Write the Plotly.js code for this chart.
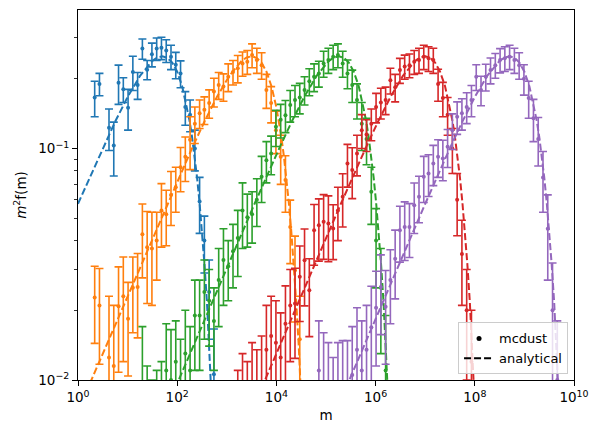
<!DOCTYPE html>
<html>
<head>
<meta charset="utf-8">
<script src="https://cdn.plot.ly/plotly-3.0.1.min.js"></script>
<style>
  html, body { margin: 0; padding: 0; background: #ffffff; }
  #chart { width: 599px; height: 437px; }
</style>
</head>
<body>
<div id="chart"></div>
<script>
// ---- mcdust snapshots: bin-centre masses, m^2 f(m) and 1-sigma errors ----
const massBlue = [2.170, 2.708, 4.217, 5.262, 6.566, 8.194, 10.22, 12.76, 15.92, 19.86, 24.79, 30.93, 38.60, 48.16, 60.10, 74.99, 93.57, 116.8, 145.7, 181.9, 226.9, 283.0, 353.2, 440.8, 550.0];
const valBlue = [0.166, 0.190, 0.123, 0.103, 0.192, 0.180, 0.150, 0.214, 0.188, 0.270, 0.219, 0.255, 0.270, 0.272, 0.265, 0.249, 0.230, 0.211, 0.151, 0.140, 0.100, 0.059, 0.040, 0.024, 0.0106];
const errBlue = [0.029, 0.021, 0.025, 0.027, 0.037, 0.022, 0.030, 0.036, 0.025, 0.027, 0.021, 0.030, 0.030, 0.030, 0.030, 0.030, 0.030, 0.028, 0.025, 0.022, 0.020, 0.016, 0.011, 0.009, 0.006];

const massOrange = [2.170, 2.708, 4.217, 5.262, 6.566, 8.194, 10.22, 12.76, 15.92, 19.86, 24.79, 30.93, 38.60, 48.16, 60.10, 74.99, 93.57, 116.8, 145.7, 181.9, 226.9, 283.0, 353.2, 440.8, 550.0, 686.3, 856.4, 1069, 1334, 1664, 2076, 2591, 3233, 4034, 5034, 6282, 7838, 9781, 12205, 15230, 19005, 23714, 29590];
const valOrange = [0.0227, 0.0210, 0.0125, 0.0115, 0.0208, 0.023, 0.0184, 0.025, 0.0252, 0.0426, 0.0374, 0.037, 0.040, 0.054, 0.052, 0.063, 0.068, 0.083, 0.092, 0.109, 0.128, 0.142, 0.147, 0.157, 0.176, 0.188, 0.185, 0.204, 0.214, 0.222, 0.233, 0.237, 0.253, 0.241, 0.229, 0.179, 0.157, 0.120, 0.092, 0.073, 0.0458, 0.0298, 0.015];
const errOrange = [0.0083, 0.0093, 0.0105, 0.0095, 0.010, 0.011, 0.008, 0.009, 0.010, 0.015, 0.016, 0.016, 0.013, 0.0165, 0.014, 0.0165, 0.015, 0.018, 0.020, 0.028, 0.023, 0.020, 0.020, 0.022, 0.025, 0.025, 0.025, 0.028, 0.026, 0.030, 0.028, 0.028, 0.030, 0.030, 0.030, 0.030, 0.028, 0.025, 0.022, 0.020, 0.014, 0.012, 0.008];

const massGreen = [19.86, 24.79, 30.93, 38.60, 48.16, 60.10, 74.99, 93.57, 116.8, 145.7, 181.9, 226.9, 283.0, 353.2, 440.8, 550.0, 686.3, 856.4, 1069, 1334, 1664, 2076, 2591, 3233, 4034, 5034, 6282, 7838, 9781, 12205, 15230, 19005, 23714, 29590, 36925, 46075, 57497, 71741, 89520, 1.117e5, 1.394e5, 1.739e5, 2.170e5, 2.708e5, 3.380e5, 4.217e5, 5.262e5, 6.566e5, 8.194e5, 1.022e6, 1.276e6, 1.592e6];
const valGreen = [0.0095, 0.006, 0.005, 0.006, 0.007, 0.011, 0.010, 0.012, 0.009, 0.013, 0.011, 0.019, 0.019, 0.024, 0.022, 0.018, 0.027, 0.033, 0.031, 0.036, 0.041, 0.054, 0.0505, 0.052, 0.060, 0.0754, 0.089, 0.095, 0.124, 0.133, 0.139, 0.154, 0.162, 0.166, 0.179, 0.195, 0.204, 0.211, 0.233, 0.241, 0.249, 0.253, 0.233, 0.211, 0.188, 0.162, 0.128, 0.110, 0.065, 0.040, 0.025, 0.011];
const errGreen = [0.0075, 0.0055, 0.005, 0.005, 0.005, 0.0065, 0.0065, 0.006, 0.006, 0.007, 0.006, 0.008, 0.008, 0.009, 0.008, 0.007, 0.010, 0.012, 0.009, 0.011, 0.013, 0.017, 0.013, 0.013, 0.014, 0.017, 0.018, 0.018, 0.022, 0.022, 0.022, 0.024, 0.025, 0.025, 0.025, 0.026, 0.028, 0.027, 0.030, 0.030, 0.030, 0.030, 0.030, 0.030, 0.030, 0.028, 0.030, 0.025, 0.018, 0.015, 0.012, 0.008];

const massRed = [1664, 2076, 2591, 3233, 4034, 5034, 6282, 7838, 9781, 12205, 15230, 19005, 23714, 29590, 36925, 46075, 57497, 71741, 89520, 1.117e5, 1.394e5, 1.739e5, 2.170e5, 2.708e5, 3.380e5, 4.217e5, 5.262e5, 6.566e5, 8.194e5, 1.022e6, 1.276e6, 1.592e6, 1.986e6, 2.479e6, 3.093e6, 3.860e6, 4.816e6, 6.010e6, 7.499e6, 9.357e6, 1.168e7, 1.457e7, 1.819e7, 2.269e7, 2.830e7, 3.532e7, 4.408e7, 5.500e7, 6.863e7, 8.564e7];
const valRed = [0.006, 0.0075, 0.007, 0.0085, 0.008, 0.0095, 0.0135, 0.0155, 0.0145, 0.0125, 0.0175, 0.021, 0.0214, 0.0279, 0.0329, 0.0244, 0.0443, 0.0466, 0.0482, 0.0474, 0.0451, 0.054, 0.0618, 0.0861, 0.0807, 0.0951, 0.120, 0.115, 0.128, 0.151, 0.158, 0.162, 0.197, 0.184, 0.218, 0.226, 0.229, 0.237, 0.241, 0.249, 0.245, 0.241, 0.190, 0.165, 0.140, 0.100, 0.060, 0.035, 0.020, 0.012];
const errRed = [0.005, 0.0055, 0.005, 0.006, 0.0055, 0.006, 0.0075, 0.0075, 0.0075, 0.007, 0.008, 0.009, 0.009, 0.010, 0.012, 0.009, 0.013, 0.014, 0.015, 0.015, 0.012, 0.014, 0.016, 0.018, 0.020, 0.019, 0.020, 0.018, 0.020, 0.022, 0.024, 0.022, 0.025, 0.025, 0.027, 0.027, 0.027, 0.028, 0.030, 0.030, 0.030, 0.030, 0.030, 0.028, 0.026, 0.022, 0.018, 0.014, 0.010, 0.008];

const massPurple = [71741, 89520, 1.117e5, 1.394e5, 1.739e5, 2.170e5, 2.708e5, 3.380e5, 4.217e5, 5.262e5, 6.566e5, 8.194e5, 1.022e6, 1.276e6, 1.592e6, 1.986e6, 2.479e6, 3.093e6, 3.860e6, 4.816e6, 6.010e6, 7.499e6, 9.357e6, 1.168e7, 1.457e7, 1.819e7, 2.269e7, 2.830e7, 3.532e7, 4.408e7, 5.500e7, 6.863e7, 8.564e7, 1.069e8, 1.334e8, 1.664e8, 2.076e8, 2.591e8, 3.233e8, 4.034e8, 5.034e8, 6.282e8, 7.838e8, 9.781e8, 1.2205e9, 1.523e9, 1.9005e9, 2.3714e9, 2.959e9, 3.6925e9, 4.6075e9];
const valPurple = [0.011, 0.0095, 0.0085, 0.007, 0.0085, 0.0088, 0.0088, 0.0105, 0.0135, 0.011, 0.0135, 0.0169, 0.0205, 0.0252, 0.0207, 0.027, 0.0334, 0.0443, 0.0458, 0.0458, 0.0569, 0.0618, 0.0754, 0.078, 0.0861, 0.092, 0.0905, 0.1017, 0.120, 0.137, 0.142, 0.151, 0.162, 0.204, 0.179, 0.204, 0.218, 0.229, 0.241, 0.245, 0.249, 0.241, 0.229, 0.200, 0.165, 0.135, 0.110, 0.075, 0.045, 0.020, 0.010];
const errPurple = [0.007, 0.0065, 0.006, 0.0055, 0.006, 0.006, 0.006, 0.0065, 0.007, 0.007, 0.0075, 0.0085, 0.009, 0.0095, 0.009, 0.0095, 0.011, 0.012, 0.013, 0.012, 0.014, 0.014, 0.017, 0.016, 0.017, 0.017, 0.018, 0.019, 0.021, 0.022, 0.022, 0.023, 0.025, 0.026, 0.026, 0.027, 0.028, 0.028, 0.029, 0.030, 0.030, 0.030, 0.030, 0.030, 0.030, 0.028, 0.026, 0.022, 0.018, 0.012, 0.008];

// ---- analytical solutions at the same five times ----
const anaMassBlue = [1, 3.162, 5.623, 10, 17.78, 31.62, 39.81, 50.12, 63.10, 79.43, 100, 125.9, 158.5, 177.8, 199.5, 223.9, 251.2, 281.8, 316.2, 354.8, 398.1, 446.7, 501.2, 631.0];
const anaValBlue = [0.0577, 0.1004, 0.1307, 0.1668, 0.2058, 0.2390, 0.2471, 0.2500, 0.2464, 0.2348, 0.2145, 0.1858, 0.1504, 0.1314, 0.1120, 0.0930, 0.0750, 0.0585, 0.0439, 0.0316, 0.0217, 0.0141, 0.0087, 0.0027];
const anaMassOrange = [1, 2.0, 6.31, 19.95, 63.1, 199.5, 354.8, 631, 1122, 1995, 2512, 3162, 3981, 5012, 6310, 7943, 10000, 11220, 12589, 14125, 15849, 17783, 19953, 22387, 25119, 28184, 31623, 39811];
const anaValOrange = [0.00736, 0.01037, 0.01843, 0.0327, 0.0577, 0.1004, 0.1307, 0.1668, 0.2058, 0.2390, 0.2471, 0.2500, 0.2464, 0.2348, 0.2145, 0.1858, 0.1504, 0.1314, 0.1120, 0.0930, 0.0750, 0.0585, 0.0439, 0.0316, 0.0217, 0.0141, 0.0087, 0.0027];
const anaMassGreen = [36.31, 114.8, 363.1, 1148, 3631, 11482, 20417, 36308, 64565, 114815, 144544, 181970, 229087, 288403, 363078, 457088, 575440, 645654, 724436, 812831, 912011, 1023293, 1148154, 1288250, 1445440, 1621810, 1819701, 2290868];
const anaValGreen = [0.00583, 0.01037, 0.01843, 0.0327, 0.0577, 0.1004, 0.1307, 0.1668, 0.2058, 0.2390, 0.2471, 0.2500, 0.2464, 0.2348, 0.2145, 0.1858, 0.1504, 0.1314, 0.1120, 0.0930, 0.0750, 0.0585, 0.0439, 0.0316, 0.0217, 0.0141, 0.0087, 0.0027];
const anaMassRed = [1995, 6310, 19953, 63096, 199526, 630957, 1122018, 1995262, 3548134, 6309573, 7943282, 1e7, 12589254, 15848932, 19952623, 25118864, 31622777, 35481339, 39810717, 44668359, 50118723, 56234133, 63095734, 70794578, 79432823, 89125094, 1e8, 125892541];
const anaValRed = [0.00583, 0.01037, 0.01843, 0.0327, 0.0577, 0.1004, 0.1307, 0.1668, 0.2058, 0.2390, 0.2471, 0.2500, 0.2464, 0.2348, 0.2145, 0.1858, 0.1504, 0.1314, 0.1120, 0.0930, 0.0750, 0.0585, 0.0439, 0.0316, 0.0217, 0.0141, 0.0087, 0.0027];
const anaMassPurple = [1e5, 316228, 1e6, 3162278, 1e7, 3.162e7, 5.623e7, 1e8, 1.778e8, 3.162e8, 3.981e8, 5.012e8, 6.310e8, 7.943e8, 1e9, 1.259e9, 1.585e9, 1.778e9, 1.995e9, 2.239e9, 2.512e9, 2.818e9, 3.162e9, 3.548e9, 3.981e9, 4.467e9, 5.012e9, 6.310e9];
const anaValPurple = [0.00583, 0.01037, 0.01843, 0.0327, 0.0577, 0.1004, 0.1307, 0.1668, 0.2058, 0.2390, 0.2471, 0.2500, 0.2464, 0.2348, 0.2145, 0.1858, 0.1504, 0.1314, 0.1120, 0.0930, 0.0750, 0.0585, 0.0439, 0.0316, 0.0217, 0.0141, 0.0087, 0.0027];

const xTickVals = [1, 1e2, 1e4, 1e6, 1e8, 1e10];
const xTickText = ['10<sup>0</sup>', '10<sup>2</sup>', '10<sup>4</sup>', '10<sup>6</sup>', '10<sup>8</sup>', '10<sup>10</sup>'];
const yTickVals = [0.01, 0.1];
const yTickText = ['10<sup>\u22122</sup>', '10<sup>\u22121</sup>'];
const yMinorVals = [0.02, 0.03, 0.04, 0.05, 0.06, 0.07, 0.08, 0.09, 0.2, 0.3];
const legendLabels = ['mcdust', 'analytical'];

const colors = ['#1f77b4', '#ff7f0e', '#2ca02c', '#d62728', '#9467bd'];
const series = [
  [massBlue, valBlue, errBlue, anaMassBlue, anaValBlue],
  [massOrange, valOrange, errOrange, anaMassOrange, anaValOrange],
  [massGreen, valGreen, errGreen, anaMassGreen, anaValGreen],
  [massRed, valRed, errRed, anaMassRed, anaValRed],
  [massPurple, valPurple, errPurple, anaMassPurple, anaValPurple]
];

const traces = [];
series.forEach((s, i) => {
  traces.push({
    x: s[0], y: s[1], type: 'scatter', mode: 'markers',
    marker: { color: colors[i], size: 4 },
    error_y: { type: 'data', array: s[2], visible: true, color: colors[i], thickness: 1.6, width: 4 },
    showlegend: false, hoverinfo: 'skip'
  });
  traces.push({
    x: s[3], y: s[4], type: 'scatter', mode: 'lines',
    line: { color: colors[i], width: 2, dash: '7px,3px' },
    showlegend: false, hoverinfo: 'skip'
  });
});
// legend keys
traces.push({ x: [null], y: [null], type: 'scatter', mode: 'markers', name: legendLabels[0],
  marker: { color: '#000000', size: 5 }, showlegend: true });
traces.push({ x: [null], y: [null], type: 'scatter', mode: 'lines', name: legendLabels[1],
  line: { color: '#000000', width: 2, dash: '7px,3px' }, showlegend: true });

const axisFont = { family: 'DejaVu Sans, sans-serif', size: 13.5, color: '#000000' };
const legendFont = { family: 'DejaVu Sans, sans-serif', size: 13, color: '#000000' };

const layout = {
  width: 599, height: 437,
  margin: { l: 78, r: 25, t: 10, b: 57 },
  paper_bgcolor: '#ffffff', plot_bgcolor: '#ffffff',
  font: axisFont,
  xaxis: {
    type: 'log', range: [0, 10], autorange: false,
    tickvals: xTickVals, ticktext: xTickText,
    ticks: 'outside', ticklen: 5, tickwidth: 1, tickcolor: '#000000',
    showline: true, linecolor: '#000000', linewidth: 1, mirror: true,
    showgrid: false, zeroline: false, tickfont: axisFont,
    title: { text: 'm', font: axisFont, standoff: 6 }
  },
  yaxis: {
    type: 'log', range: [-2, -0.402], autorange: false,
    tickvals: yTickVals, ticktext: yTickText,
    ticks: 'outside', ticklen: 5, tickwidth: 1, tickcolor: '#000000',
    minor: { tickvals: yMinorVals, ticks: 'outside', ticklen: 3, tickwidth: 0.8, tickcolor: '#000000', showgrid: false },
    showline: true, linecolor: '#000000', linewidth: 1, mirror: true,
    showgrid: false, zeroline: false, tickfont: axisFont,
    title: { text: '<i>m</i><sup>2</sup>f(m)', font: axisFont, standoff: 8 }
  },
  legend: {
    x: 0.988, y: 0.015, xanchor: 'right', yanchor: 'bottom',
    bgcolor: 'rgba(255,255,255,0.8)', bordercolor: '#cccccc', borderwidth: 1,
    font: legendFont, tracegroupgap: 0, itemwidth: 30
  }
};

Plotly.newPlot('chart', traces, layout, { staticPlot: true, displayModeBar: false });
</script>
</body>
</html>
